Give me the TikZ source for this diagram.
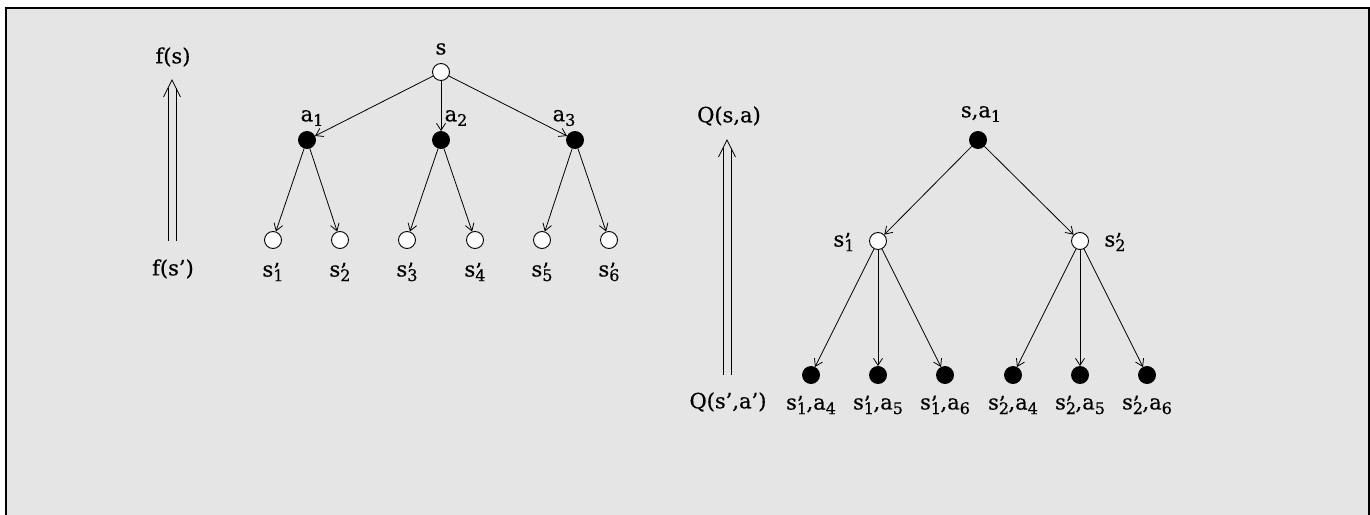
\documentclass[tikz,border=0pt]{standalone}
\usepackage{fontspec}
\setmainfont{DejaVu Serif}
\newfontfamily\lblfont[BoldFont={DejaVu Serif},BoldFeatures={FakeBold=0.6}]{DejaVu Serif}
\usetikzlibrary{arrows.meta,calc}
\newcommand\subx[1]{\raisebox{-0.42ex}{\fontsize{16}{16}\selectfont #1}}
\newcommand\spr[1]{s\rlap{\raisebox{-0.15ex}{’}}\subx{#1}}
\newcommand\act[1]{a\subx{#1}}
\tikzset{
  x=1pt,y=-1pt,
  st/.style={circle,draw,fill=white,minimum size=17pt,inner sep=0pt,line width=0.9pt},
  ac/.style={circle,draw,fill=black,minimum size=17pt,inner sep=0pt,line width=0.9pt},
  lbl/.style={font=\lblfont\bfseries\fontsize{21}{24}\selectfont,inner sep=0pt},
  arr/.style={line width=0.8pt,-{Straight Barb[length=7pt,width=9pt]}},
  dbl/.style={line width=0.8pt},
}
\begin{document}
\begin{tikzpicture}
\useasboundingbox (0,0) rectangle (1370,514);
\fill[black!10] (6,8) rectangle (1369,520);
\draw[line width=2pt] (6,520) -- (6,8) -- (1369,8) -- (1369,520);

% ---------- left: state tree ----------
\node[lbl] (fs) at (173,57) {f(s)};
\node[lbl] (fsp) at (173,269) {f(s’)};
\coordinate (fb) at (172,241);
\coordinate (ft) at (172,80);
\draw[dbl] ($(fb)+(-4,0)$) -- ($(ft)+(-4,8)$);
\draw[dbl] ($(fb)+(4,0)$) -- ($(ft)+(4,8)$);
\draw[dbl] ($(ft)+(-8.5,17)$) -- (ft) -- ($(ft)+(8.5,17)$);

\node[st] (s) at (441,72) {};
\node[lbl] (sl) at (441,49) {s};
\node[ac] (a1) at (307,140) {};
\node[ac] (a2) at (441,140) {};
\node[ac] (a3) at (575,140) {};
\node[lbl] (a1l) at (312,118) {\act{1}};
\node[lbl] (a2l) at (456,118) {\act{2}};
\node[lbl] (a3l) at (564,118) {\act{3}};
\foreach \i/\x in {1/273,2/340,3/407,4/475,5/542,6/609}{
  \node[st] (l\i) at (\x,240) {};
  \node[lbl] (ll\i) at (\x,272) {\spr{\i}};
}
\foreach \a in {a1,a2,a3} \draw[arr] (s) -- (\a);
\draw[arr] (a1) -- (l1); \draw[arr] (a1) -- (l2);
\draw[arr] (a2) -- (l3); \draw[arr] (a2) -- (l4);
\draw[arr] (a3) -- (l5); \draw[arr] (a3) -- (l6);

% ---------- right: state-action tree ----------
\node[lbl] (qs) at (729,116) {Q(s,a)};
\node[lbl] (qsp) at (728,402) {Q(s’,a’)};
\coordinate (qb) at (727,375);
\coordinate (qt) at (727,140);
\draw[dbl] ($(qb)+(-4,0)$) -- ($(qt)+(-4,8)$);
\draw[dbl] ($(qb)+(4,0)$) -- ($(qt)+(4,8)$);
\draw[dbl] ($(qt)+(-8.5,17)$) -- (qt) -- ($(qt)+(8.5,17)$);

\node[ac] (r) at (978,140) {};
\node[lbl] (rl) at (981,114) {s,\act{1}};
\node[st] (t1) at (878,241) {};
\node[st] (t2) at (1080,241) {};
\node[lbl] (t1l) at (844,242) {\spr{1}};
\node[lbl] (t2l) at (1115,242) {\spr{2}};
\draw[arr] (r) -- (t1);
\draw[arr] (r) -- (t2);
\foreach \i/\x/\p/\q in {1/811/1/4,2/878/1/5,3/945/1/6,4/1013/2/4,5/1080/2/5,6/1147/2/6}{
  \node[ac] (b\i) at (\x,375) {};
  \node[lbl] (bl\i) at (\x,405) {\spr{\p}\kern-0.5pt,\act{\q}};
}
\foreach \i in {1,2,3} \draw[arr] (t1) -- (b\i);
\foreach \i in {4,5,6} \draw[arr] (t2) -- (b\i);
\end{tikzpicture}
\end{document}
